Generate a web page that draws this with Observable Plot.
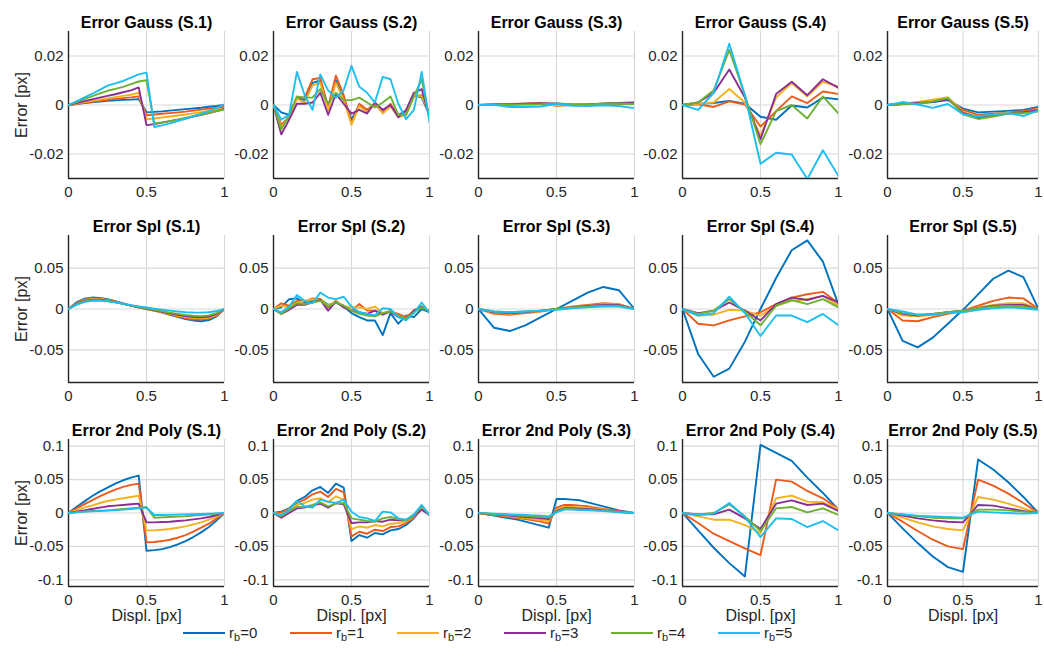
<!DOCTYPE html>
<html><head><meta charset="utf-8">
<script src="https://cdn.jsdelivr.net/npm/d3@7"></script>
<script src="https://cdn.jsdelivr.net/npm/@observablehq/plot@0.6"></script>
<style>
body{margin:0;background:#fff;font-family:"Liberation Sans",Arial,Helvetica,sans-serif;}
#chart{position:relative;width:1044px;height:657px;overflow:hidden;background:#fff;}
#chart svg{position:absolute;overflow:visible;}
.lg{position:absolute;top:623px;font-size:15px;color:#262626;white-space:nowrap;line-height:20px;}
.lg .sw{display:inline-block;width:42px;height:0;border-top:2px solid;vertical-align:middle;margin-right:4px;position:relative;top:-1px;}
.lg sub{font-size:11px;vertical-align:-3px;}
</style></head>
<body><div id="chart"></div>
<script>
const seriesNames = ["r_b=0","r_b=1","r_b=2","r_b=3","r_b=4","r_b=5"];
const seriesIdx = ["0","1","2","3","4","5"];
const colors = ["#0072BD","#EC5A1C","#F3B11F","#8A2E96","#6DB133","#1DBEF0"];
const x05 = [0,0.05,0.1,0.15,0.2,0.25,0.3,0.35,0.4,0.45,0.5,0.55,0.6,0.65,0.7,0.75,0.8,0.85,0.9,0.95,1];
const x10 = [0,0.1,0.2,0.3,0.4,0.5,0.6,0.7,0.8,0.9,1];
const xTicks = [0,0.5,1];

// Row 1: Error Gauss
const gaussS1 = [
 [0,.0004,.0008,.0011,.0014,.0017,.0019,.0021,.0022,.0024,-.003,-.0028,-.0026,-.0023,-.002,-.0017,-.0014,-.0011,-.0007,-.0004,0],
 [0,.0004,.0009,.0013,.0017,.0021,.0025,.0028,.0031,.0035,-.0042,-.0039,-.0036,-.0033,-.003,-.0027,-.0023,-.0019,-.0015,-.0011,-.0008],
 [0,.0006,.0012,.0017,.0022,.0027,.0032,.0037,.0042,.005,-.0058,-.0055,-.0051,-.0047,-.0043,-.0039,-.0034,-.0029,-.0024,-.0019,-.0014],
 [0,.0008,.0016,.0023,.003,.0037,.0044,.0052,.006,.0072,-.0082,-.0078,-.0072,-.0066,-.006,-.0054,-.0047,-.004,-.0033,-.0025,-.0016],
 [0,.0012,.0024,.0035,.0047,.0058,.0066,.0074,.0085,.0096,.0101,-.0075,-.0071,-.0066,-.006,-.0053,-.0046,-.0039,-.0032,-.0025,-.0018],
 [0,.0015,.003,.0045,.0062,.0079,.0088,.0098,.0112,.0125,.0132,-.009,-.0083,-.0075,-.0066,-.0056,-.0046,-.0035,-.0024,-.0012,.0003]
];
const gaussS2 = [
 [0,-.003,-.004,.003,.002,.009,.01,-.0005,.01,.003,-.006,0,-.002,.0005,-.003,-.0005,-.004,-.0025,.004,.003,-.004],
 [0,-.008,-.005,.003,.003,.0105,.011,-.001,.012,.004,-.0075,.0005,-.002,.0005,-.003,.0005,-.0045,-.0035,.0035,.004,-.004],
 [0,-.009,-.005,.0025,.001,.008,.009,-.002,.009,.002,-.008,-.0005,-.003,.001,-.0035,-.0005,-.005,-.004,.004,.0035,-.003],
 [0,-.012,-.006,.0005,.0005,.001,.005,-.004,.0045,.0005,-.0035,-.002,-.0035,.001,-.002,0,-.005,-.002,.005,.0065,-.005],
 [0,-.01,-.004,.0035,.003,.003,.0065,.0005,.005,.002,.002,.003,.001,-.001,.001,.0035,-.004,-.004,.0035,.0105,-.006],
 [0,-.006,-.004,.0135,.004,-.002,.0125,.006,.003,.006,.016,.0075,.005,.001,.0115,.0105,.0005,-.0058,-.002,.0135,-.007]
];
const gaussS3 = [
 [0,.0001,.0003,.0004,.0006,.0002,.0001,.0002,.0004,.0005,.0006],
 [0,.0002,.0003,.0005,.0008,-.0003,0,.0002,.0004,.0005,.0006],
 [0,.0002,.0004,.0006,.0009,-.0002,.0001,.0003,.0005,.0007,.0008],
 [0,.0002,.0003,.0005,.0007,.0006,.0001,.0002,.0006,.0008,.001],
 [0,.0001,.0001,.0002,.0003,.0006,.0003,.0002,.0005,.0006,.0004],
 [0,.0001,-.0008,-.0008,-.0006,.0005,-.0003,-.0004,-.0001,-.0004,-.0013]
];
const gaussS4 = [
 [0,.0005,.0008,.0017,.0005,-.0048,-.006,-.0002,-.001,.003,.0023],
 [0,.0003,-.0008,.0015,.0002,-.0088,-.0025,.0035,.0008,.0055,.0045],
 [0,.0005,.001,.0065,.001,-.0125,.003,.009,.0035,.0095,.0075],
 [0,.001,.005,.0145,.003,-.014,.0045,.0095,.004,.0105,.007],
 [0,.001,.006,.0225,.004,-.016,-.0025,0,-.0055,.0035,-.0035],
 [0,-.002,.005,.025,.004,-.024,-.0195,-.0202,-.0302,-.0185,-.029]
];
const gaussS5 = [
 [0,.0004,.0008,.0012,.002,-.0015,-.003,-.0027,-.0024,-.002,-.0008],
 [0,.0005,.001,.0015,.0025,-.002,-.004,-.0035,-.003,-.0025,-.0013],
 [0,.0005,.0012,.0022,.0032,-.0028,-.0048,-.004,-.003,-.0035,-.0015],
 [0,.0004,.0008,.0012,.0025,-.0032,-.0052,-.0045,-.0035,-.003,-.002],
 [0,.0003,.0005,.0015,.0028,-.0038,-.0057,-.0047,-.0035,-.0033,-.0027],
 [0,.0012,.0002,-.0012,.0004,-.0038,-.0047,-.0038,-.0033,-.0045,-.0022]
];

// Row 2: Error Spl
const splS1 = [
 [0,.008,.0125,.014,.0135,.012,.0095,.0068,.0042,.002,0,-.002,-.0045,-.007,-.0095,-.0122,-.014,-.015,-.0135,-.009,0],
 [0,.007,.0115,.013,.0128,.0115,.0093,.0067,.0042,.002,0,-.002,-.0042,-.0065,-.0088,-.011,-.0125,-.013,-.0118,-.008,0],
 [0,.0065,.0108,.0122,.012,.0108,.0088,.0065,.0042,.002,.0002,-.0018,-.004,-.006,-.008,-.0098,-.011,-.0115,-.0105,-.007,0],
 [0,.006,.01,.0115,.0113,.0102,.0085,.0063,.0042,.0022,.0004,-.0015,-.0035,-.0053,-.007,-.0086,-.0098,-.0102,-.0092,-.006,0],
 [0,.0055,.0093,.0108,.0108,.0098,.0083,.0063,.0044,.0025,.0008,-.001,-.0028,-.0045,-.006,-.0073,-.0083,-.0087,-.0078,-.005,0],
 [0,.005,.0085,.01,.0102,.0095,.0082,.0065,.0048,.0032,.0018,.0005,-.0008,-.002,-.003,-.0038,-.0043,-.0045,-.004,-.0025,0]
];
const splS2 = [
 [0,.002,.012,.013,.008,.01,.012,.005,.008,.003,-.005,-.01,-.014,-.014,-.032,-.005,-.018,-.008,-.01,0,-.004],
 [0,.007,.004,.01,.009,.013,.012,.002,.008,.004,-.002,.006,-.002,-.002,-.006,-.003,-.006,-.01,-.002,.002,-.002],
 [0,.004,.002,.008,.01,.012,.011,.004,.01,.003,.002,.002,0,.003,-.005,-.002,-.008,-.012,-.001,.003,-.003],
 [0,-.006,-.001,.005,.005,.008,.011,-.002,.009,.002,-.002,-.004,-.006,-.002,-.007,-.003,-.01,-.012,-.002,.003,-.004],
 [0,-.006,.001,.007,.006,.008,.01,.003,.008,.004,-.002,-.006,-.008,-.009,-.005,-.003,-.008,-.012,-.004,.002,-.003],
 [0,-.004,.003,.017,.01,.007,.02,.014,.012,.015,.003,-.004,-.006,-.008,.001,0,-.01,-.014,-.005,.008,-.005]
];
const splS3 = [
 [0,-.023,-.027,-.02,-.01,0,.01,.02,.027,.023,0],
 [0,-.006,-.007,-.005,-.003,0,.003,.005,.007,.006,0],
 [0,-.005,-.006,-.0045,-.0025,0,.0025,.0045,.006,.0055,0],
 [0,-.004,-.005,-.004,-.002,0,.002,.004,.005,.005,0],
 [0,-.003,-.004,-.003,-.002,0,.002,.003,.004,.004,0],
 [0,-.003,-.004,-.003,-.002,-.001,.001,.002,.003,.003,0]
];
const splS4 = [
 [0,-.055,-.083,-.073,-.04,0,.038,.072,.084,.058,.005],
 [0,-.018,-.02,-.014,-.009,-.004,.006,.014,.018,.021,.007],
 [0,-.008,-.007,-.001,-.002,-.008,.004,.01,.012,.016,.004],
 [0,-.005,-.002,.008,-.002,-.014,.006,.014,.011,.016,.008],
 [0,-.006,-.002,.012,-.003,-.02,.004,.011,.006,.012,.002],
 [0,-.008,-.005,.015,-.005,-.033,-.008,-.008,-.016,-.006,-.02]
];
const splS5 = [
 [0,-.039,-.047,-.035,-.018,-.001,.018,.037,.047,.039,0],
 [0,-.014,-.015,-.01,-.006,-.002,.004,.01,.014,.013,0],
 [0,-.008,-.009,-.007,-.004,-.002,.002,.005,.007,.007,0],
 [0,-.006,-.008,-.006,-.004,-.002,.001,.004,.005,.005,0],
 [0,-.005,-.007,-.006,-.004,-.002,.001,.003,.004,.003,0],
 [0,-.003,-.007,-.007,-.005,-.004,-.001,.001,.002,.001,-.001]
];

// Row 3: Error 2nd Poly
const polyS1 = [
 [0,.009,.017,.025,.032,.038,.044,.049,.053,.056,-.0565,-.0555,-.054,-.051,-.047,-.042,-.036,-.029,-.021,-.011,0],
 [0,.007,.013,.019,.025,.03,.035,.039,.042,.044,-.044,-.0435,-.042,-.04,-.037,-.033,-.028,-.022,-.016,-.008,0],
 [0,.004,.008,.011,.015,.018,.02,.022,.024,.026,-.026,-.026,-.025,-.024,-.022,-.02,-.017,-.014,-.01,-.005,0],
 [0,.002,.004,.006,.008,.01,.011,.012,.013,.014,-.014,-.014,-.0135,-.013,-.012,-.011,-.0095,-.008,-.006,-.003,0],
 [0,.001,.002,.003,.0035,.004,.005,.006,.007,.008,.009,-.007,-.0065,-.006,-.0055,-.005,-.004,-.003,-.002,-.001,0],
 [0,.001,.002,.0025,.003,.0035,.004,.005,.006,.007,.008,-.003,-.003,-.0028,-.0025,-.0022,-.0018,-.0014,-.001,-.0005,0]
];
const polyS2 = [
 [0,.002,.007,.018,.024,.034,.039,.03,.044,.038,-.042,-.033,-.037,-.03,-.032,-.026,-.024,-.018,-.008,.007,-.003],
 [0,.001,.006,.015,.02,.028,.032,.024,.036,.031,-.035,-.028,-.031,-.025,-.027,-.021,-.02,-.015,-.007,.008,-.003],
 [0,-.002,.004,.012,.015,.02,.022,.016,.025,.02,-.024,-.02,-.022,-.018,-.02,-.016,-.015,-.012,-.006,.006,-.003],
 [0,-.007,0,.007,.008,.011,.014,.008,.015,.013,-.015,-.014,-.014,-.012,-.013,-.01,-.011,-.01,-.005,.005,-.003],
 [0,-.005,.003,.009,.009,.012,.016,.01,.014,.015,-.008,-.01,-.012,-.013,-.008,-.006,-.009,-.011,-.004,.01,-.003],
 [0,-.003,.005,.018,.01,.008,.02,.017,.015,.02,.002,-.006,-.008,-.012,.002,.001,-.008,-.01,-.002,.012,-.003]
];
const polyS3 = [
 [0,-.002,-.004,-.006,-.008,-.01,-.013,-.016,-.019,-.022,.021,.021,.02,.019,.016,.013,.01,.007,.004,.002,0],
 [0,-.0015,-.003,-.0045,-.006,-.0075,-.009,-.011,-.013,-.016,.008,.012,.012,.011,.01,.008,.006,.005,.003,.001,0],
 [0,-.001,-.0025,-.0035,-.005,-.006,-.0075,-.009,-.0105,-.012,.005,.009,.009,.0085,.0075,.006,.005,.0035,.002,.001,0],
 [0,-.001,-.002,-.003,-.004,-.005,-.006,-.007,-.008,-.009,.003,.007,.007,.0065,.006,.005,.004,.003,.002,.001,0],
 [0,-.0008,-.0015,-.0023,-.003,-.0038,-.0045,-.0053,-.006,-.007,.002,.006,.006,.0055,.005,.004,.0035,.0025,.0015,.0008,0],
 [0,-.0005,-.001,-.0015,-.002,-.0025,-.003,-.0035,-.004,-.005,.001,.005,.005,.0045,.004,.0035,.003,.002,.0012,.0005,0]
];
const polyS4 = [
 [0,-.026,-.052,-.075,-.095,.102,.09,.078,.053,.03,.005],
 [0,-.015,-.031,-.042,-.053,-.063,.05,.047,.033,.022,.006],
 [0,-.005,-.01,-.01,-.018,-.03,.022,.026,.017,.016,.006],
 [0,-.002,-.002,.005,-.008,-.024,.014,.019,.012,.014,.003],
 [0,-.002,0,.013,-.005,-.027,.007,.009,.001,.007,-.003],
 [0,-.003,-.001,.015,-.006,-.036,-.008,-.009,-.021,-.012,-.026]
];
const polyS5 = [
 [0,-.023,-.045,-.065,-.081,-.088,.08,.065,.046,.024,0],
 [0,-.013,-.027,-.04,-.05,-.054,.05,.041,.029,.015,0],
 [0,-.007,-.014,-.02,-.024,-.026,.024,.02,.014,.007,0],
 [0,-.004,-.008,-.011,-.013,-.014,.012,.011,.007,.003,0],
 [0,-.002,-.005,-.007,-.008,-.008,.005,.005,.004,.002,0],
 [0,-.002,-.004,-.005,-.006,-.007,.002,.001,0,-.001,0]
];

const rowNames = ["Error Gauss","Error Spl","Error 2nd Poly"];
const rowPanels = [[gaussS1,gaussS2,gaussS3,gaussS4,gaussS5],[splS1,splS2,splS3,splS4,splS5],[polyS1,polyS2,polyS3,polyS4,polyS5]];
const rowXs = [[x05,x05,x10,x10,x10],[x05,x05,x10,x10,x10],[x05,x05,x05,x10,x10]];
const rowDomains = [[-0.03,0.03],[-0.09,0.09],[-0.11,0.11]];
const rowTicks = [[-0.02,0,0.02],[-0.05,0,0.05],[-0.1,-0.05,0,0.05,0.1]];
const panelLabels = ["(S.1)","(S.2)","(S.3)","(S.4)","(S.5)"];

// layout
const FONT = '"Liberation Sans", Arial, Helvetica, sans-serif';
const colX = [67.6, 272.6, 477.5, 682.4, 887.4];
const colW = [156, 156, 156, 156, 151];
const rowTop = [30.5, 235, 439];
const PH = 147;
const ML = 68, MR = 4, MT = 32, MB = 50;
const fmt = d => d === 0 ? "0" : String(d);

const chart = document.getElementById("chart");

function panel(title, xs, ys, domain, ticks, pw, showY, showX) {
  const data = [];
  ys.forEach((arr, si) => arr.forEach((v, i) => data.push({x: xs[i], y: v, s: seriesNames[si]})));
  return Plot.plot({
    width: ML + pw + MR, height: MT + PH + MB,
    marginLeft: ML, marginRight: MR, marginTop: MT, marginBottom: MB,
    style: {background: "transparent", overflow: "visible", fontFamily: FONT, fontSize: "15px", color: "#262626"},
    x: {domain: [0, 1]},
    y: {domain},
    color: {domain: seriesNames, range: colors},
    marks: [
      Plot.gridX(xTicks, {stroke: "#d9d9d9", strokeOpacity: 1, strokeWidth: 1.2}),
      Plot.gridY(ticks, {stroke: "#d9d9d9", strokeOpacity: 1, strokeWidth: 1.2}),
      Plot.axisX(xTicks, {tickSize: 0, tickPadding: 8, tickFormat: fmt, label: null, fill: "#262626"}),
      Plot.axisY(ticks, {tickSize: 0, tickPadding: 5, tickFormat: fmt, label: null, fill: "#262626"}),
      Plot.ruleX([0], {stroke: "#262626", strokeWidth: 1.4}),
      Plot.ruleY([domain[0]], {stroke: "#262626", strokeWidth: 1.4}),
      Plot.line(data, {x: "x", y: "y", z: "s", stroke: "s", strokeWidth: 1.9, clip: true}),
      Plot.text([title], {text: d => d, frameAnchor: "top", textAnchor: "middle", lineAnchor: "bottom", dy: -3.5, fontWeight: "bold", fontSize: 16, fill: "#000"}),
      showY ? Plot.text(["Error [px]"], {text: d => d, frameAnchor: "left", textAnchor: "middle", lineAnchor: "top", rotate: -90, dx: -53, fontSize: 16, fill: "#262626"}) : null,
      showX ? Plot.text(["Displ. [px]"], {text: d => d, frameAnchor: "bottom", textAnchor: "middle", lineAnchor: "top", dy: 23, fontSize: 16, fill: "#262626"}) : null
    ]
  });
}

rowPanels.forEach((panels, r) => {
  panels.forEach((ys, c) => {
    const svg = panel(rowNames[r] + " " + panelLabels[c], rowXs[r][c], ys, rowDomains[r], rowTicks[r], colW[c], c === 0, r === 2);
    svg.style.position = "absolute";
    svg.style.left = (colX[c] - ML) + "px";
    svg.style.top = (rowTop[r] - MT) + "px";
    chart.appendChild(svg);
  });
});

// legend
const legendX = [183, 290, 397, 504, 611, 718];
seriesIdx.forEach((k, i) => {
  const d = document.createElement("div");
  d.className = "lg";
  d.style.left = legendX[i] + "px";
  d.innerHTML = `<span class="sw" style="border-color:${colors[i]}"></span>r<sub>b</sub>=${k}`;
  chart.appendChild(d);
});
</script>
</body></html>
